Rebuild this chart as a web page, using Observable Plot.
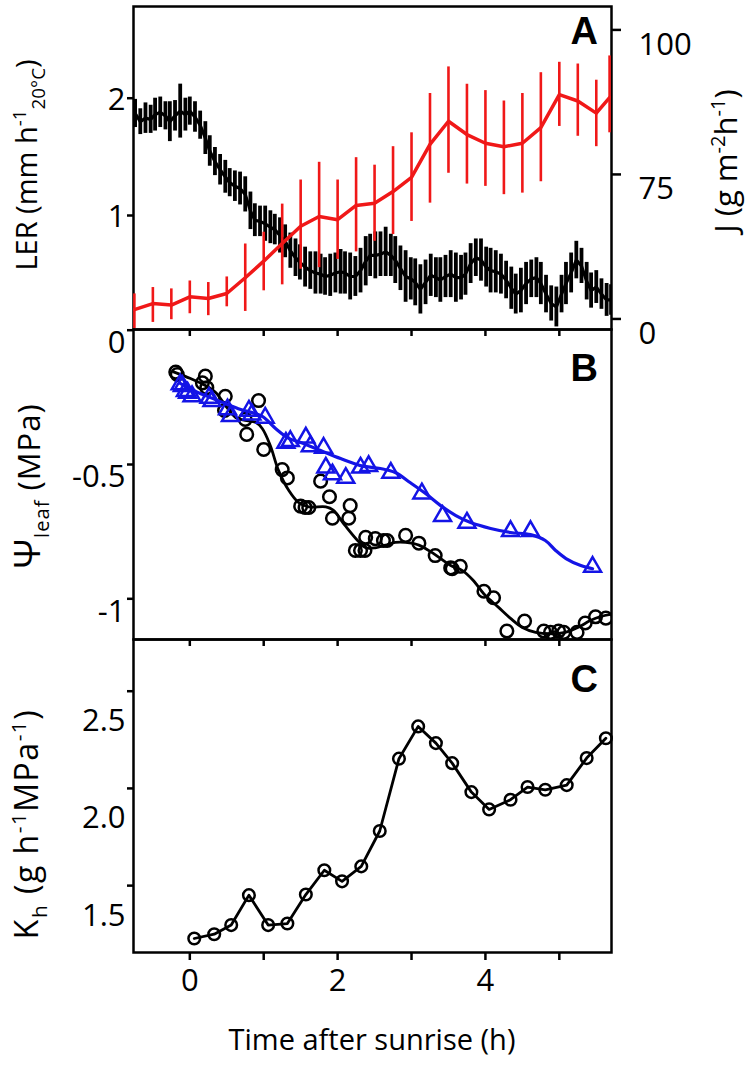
<!DOCTYPE html>
<html><head><meta charset="utf-8">
<script src="https://cdn.jsdelivr.net/npm/d3@7"></script>
<script src="https://cdn.jsdelivr.net/npm/@observablehq/plot@0.6"></script>
<style>
body{margin:0;background:#fff}
#wrap{position:relative;width:747px;height:1069px;overflow:hidden;background:#fff}
#wrap svg{position:absolute;left:0}
</style></head><body><div id="wrap"></div>
<script>
// ---------- DATA ----------
// Panel A: LER (time h, mean, half error bar)
const lerRows = [
[-0.74,1.87,0.12],[-0.67,1.80,0.11],[-0.60,1.83,0.13],[-0.53,1.82,0.12],[-0.47,1.86,0.14],[-0.40,1.88,0.13],
[-0.33,1.85,0.12],[-0.27,1.80,0.17],[-0.20,1.85,0.13],[-0.13,1.89,0.23],[-0.06,1.86,0.14],[0.00,1.89,0.12],
[0.07,1.84,0.13],[0.14,1.77,0.12],[0.21,1.66,0.14],[0.27,1.55,0.13],[0.34,1.46,0.12],[0.41,1.39,0.13],
[0.48,1.33,0.14],[0.54,1.28,0.12],[0.61,1.25,0.13],[0.68,1.23,0.14],[0.75,1.18,0.15],[0.82,1.04,0.16],
[0.88,0.96,0.14],[0.95,0.95,0.13],[1.02,0.93,0.15],[1.09,0.90,0.14],[1.15,0.88,0.13],[1.22,0.83,0.15],
[1.29,0.78,0.14],[1.36,0.70,0.15],[1.43,0.64,0.16],[1.49,0.60,0.15],[1.56,0.56,0.17],[1.63,0.53,0.16],
[1.70,0.51,0.18],[1.77,0.50,0.17],[1.83,0.48,0.16],[1.90,0.49,0.18],[1.97,0.51,0.17],[2.04,0.52,0.19],
[2.10,0.51,0.18],[2.17,0.48,0.20],[2.24,0.48,0.17],[2.31,0.53,0.19],[2.38,0.61,0.21],[2.44,0.66,0.18],
[2.51,0.66,0.20],[2.58,0.67,0.19],[2.65,0.69,0.21],[2.72,0.66,0.18],[2.78,0.62,0.20],[2.85,0.55,0.19],
[2.92,0.48,0.22],[2.99,0.46,0.18],[3.05,0.43,0.20],[3.12,0.37,0.21],[3.19,0.43,0.19],[3.26,0.49,0.18],
[3.33,0.47,0.17],[3.39,0.45,0.19],[3.46,0.48,0.18],[3.53,0.50,0.20],[3.60,0.47,0.21],[3.67,0.47,0.19],
[3.73,0.50,0.18],[3.80,0.59,0.17],[3.87,0.64,0.16],[3.94,0.62,0.18],[4.01,0.56,0.17],[4.07,0.53,0.19],
[4.14,0.52,0.18],[4.21,0.50,0.17],[4.28,0.45,0.16],[4.35,0.38,0.18],[4.41,0.33,0.17],[4.48,0.36,0.19],
[4.55,0.42,0.18],[4.62,0.46,0.16],[4.69,0.47,0.17],[4.75,0.42,0.18],[4.82,0.33,0.16],[4.89,0.25,0.15],
[4.96,0.22,0.17],[5.03,0.33,0.16],[5.09,0.42,0.18],[5.16,0.51,0.17],[5.23,0.62,0.16],[5.30,0.57,0.15],
[5.37,0.44,0.16],[5.43,0.36,0.15],[5.50,0.39,0.14],[5.57,0.33,0.13],[5.64,0.28,0.14],[5.70,0.28,0.13]
];
// Panel A: J (right axis)
const jTime = [-0.75,-0.5,-0.25,0,0.25,0.5,0.75,1,1.25,1.5,1.75,2,2.25,2.5,2.75,3,3.25,3.5,3.75,4,4.25,4.5,4.75,5,5.25,5.5,5.68];
const jMean = [4.8,8.0,7.2,11.5,10.6,13.2,21.4,30.0,39.2,48.1,53.2,51.5,58.9,60.1,66.1,73.5,80.2,84.2,81.9,80.4,79.8,80.4,83.1,88.8,87.7,85.6,88.3];
const jLow  = [-5,-1.8,-0.4,2.7,1.7,6.3,3.9,14.6,17.7,25.8,26.6,30.9,34.8,40.3,43.8,50.6,60.1,75.2,70.0,68.8,64.5,65.3,71.2,83.3,81.6,79.8,82.2];
const jHigh = [13.0,16.3,15.6,19.7,18.9,21.8,38.9,45.0,59.6,72.1,77.1,72.1,77.9,76.6,79.8,82.2,89.0,93.6,90.6,89.5,87.7,89.0,92.6,94.4,94.1,91.3,95.5];
// Panel B: leaf water potential, circles (observed) and fitted line
const psiCircles = [
[-0.19,-0.156],[-0.17,-0.165],[0.17,-0.196],[0.21,-0.171],[0.23,-0.214],[0.47,-0.299],[0.48,-0.246],[0.75,-0.332],
[0.77,-0.388],[0.93,-0.262],[1.00,-0.444],[1.25,-0.519],[1.32,-0.550],[1.50,-0.655],[1.56,-0.660],[1.61,-0.660],
[1.77,-0.562],[1.89,-0.620],[1.93,-0.700],[2.15,-0.700],[2.17,-0.653],[2.24,-0.820],[2.31,-0.820],[2.37,-0.820],
[2.38,-0.771],[2.51,-0.776],[2.62,-0.783],[2.67,-0.783],[2.92,-0.764],[3.10,-0.793],[3.32,-0.839],[3.53,-0.885],
[3.55,-0.888],[3.66,-0.879],[3.98,-0.972],[4.11,-0.996],[4.29,-1.120],[4.53,-1.083],[4.79,-1.120],[4.88,-1.125],
[4.93,-1.145],[4.99,-1.120],[5.06,-1.125],[5.24,-1.125],[5.35,-1.090],[5.49,-1.067],[5.63,-1.072]
];
const psiCircleFit = [
[-0.22,-0.155],[0.01,-0.18],[0.21,-0.206],[0.35,-0.232],[0.48,-0.28],[0.62,-0.325],[0.75,-0.336],[0.89,-0.343],
[0.98,-0.366],[1.09,-0.43],[1.20,-0.522],[1.34,-0.597],[1.47,-0.641],[1.61,-0.658],[1.84,-0.658],[1.94,-0.67],
[2.10,-0.727],[2.27,-0.783],[2.38,-0.81],[2.51,-0.81],[2.65,-0.80],[2.78,-0.79],[2.92,-0.79],[3.10,-0.80],
[3.29,-0.83],[3.53,-0.876],[3.69,-0.895],[3.83,-0.93],[4.00,-0.988],[4.17,-1.03],[4.34,-1.073],[4.50,-1.107],
[4.68,-1.125],[4.88,-1.13],[5.08,-1.125],[5.25,-1.107],[5.42,-1.081],[5.56,-1.066],[5.69,-1.058]
];
const psiTriangles = [
[-0.13,-0.202],[-0.10,-0.208],[-0.06,-0.227],[-0.03,-0.233],[0.03,-0.246],[0.26,-0.252],[0.30,-0.264],[0.51,-0.295],
[0.55,-0.320],[0.80,-0.300],[0.84,-0.314],[1.02,-0.326],[1.30,-0.419],[1.36,-0.413],[1.57,-0.400],[1.63,-0.432],
[1.81,-0.438],[1.84,-0.512],[1.93,-0.537],[2.11,-0.550],[2.31,-0.512],[2.42,-0.506],[2.72,-0.531],[3.14,-0.608],
[3.42,-0.692],[3.75,-0.717],[4.34,-0.748],[4.61,-0.748],[5.45,-0.881]
];
const psiTriangleFit = [
[-0.13,-0.198],[0.08,-0.228],[0.28,-0.251],[0.48,-0.273],[0.69,-0.295],[0.98,-0.321],[1.16,-0.366],[1.34,-0.403],
[1.50,-0.418],[1.77,-0.448],[2.04,-0.478],[2.31,-0.504],[2.58,-0.515],[2.78,-0.530],[2.98,-0.567],[3.19,-0.608],
[3.39,-0.652],[3.60,-0.690],[3.80,-0.716],[4.07,-0.738],[4.34,-0.753],[4.61,-0.761],[4.81,-0.783],[4.95,-0.82],
[5.09,-0.85],[5.29,-0.876],[5.45,-0.888]
];
// Panel C: hydraulic conductance
const khTime = [0.06,0.33,0.56,0.80,1.06,1.32,1.57,1.82,2.06,2.32,2.57,2.83,3.09,3.33,3.55,3.81,4.05,4.34,4.57,4.81,5.10,5.37,5.63];
const khValue = [1.228,1.250,1.297,1.451,1.297,1.305,1.454,1.579,1.522,1.599,1.781,2.153,2.319,2.233,2.130,1.981,1.892,1.942,2.007,1.993,2.017,2.156,2.258];
// Ticks
const xTicks = [0,1,2,3,4,5];
const xLabelTicks = [0,2,4];
const lerTicks = [1,2];
const jTicks = [0,75,100];
const psiTicks = [0,-0.5,-1];
const khTicks = [1.5,2.0,2.5];

// ---------- DRAW ----------
const FONT = "'Open Sans', sans-serif";
const RED = "#f01818", BLUE = "#1414e6";
const xDomain = [-0.762, 5.706];
const wrap = document.getElementById("wrap");
function place(svg, top) { svg.style.top = top + "px"; wrap.appendChild(svg); }
const base = (h, mt, mb) => ({
  width: 747, height: h, marginLeft: 133, marginRight: 136, marginTop: mt, marginBottom: mb,
  style: {background: "transparent", overflow: "visible", fontFamily: FONT, fontSize: "31px", color: "#000"}
});
// tick marks only / labels only (the reference labels sit a little below their ticks in panels B and C)
const ticksOnly = (vals, anchor, size) => Plot.axisY(vals, {anchor, tickSize: size, strokeWidth: 2.5, tickFormat: () => "", label: null});
const labelsOnly = (vals, anchor, pad, dy, fmt) => Plot.axisY(vals, {anchor, tickSize: 0, tickPadding: pad, dy, fontSize: 31, label: null, tickFormat: fmt});

const lerData = lerRows.map(([t, m, e]) => ({t, m, lo: m - e, hi: m + e}));
const jData = jTime.map((t, i) => ({t, m: jMean[i], lo: jLow[i], hi: jHigh[i]}));

// Panel A, left scale (LER)
place(Plot.plot({
  ...base(329, 6, 0),
  x: {domain: xDomain, axis: null},
  y: {domain: [0.028, 2.782]},
  marks: [
    Plot.ruleX(lerData, {x: "t", y1: "lo", y2: "hi", stroke: "#000", strokeWidth: 3.8, clip: true}),
    Plot.line(lerData, {x: "t", y: "m", stroke: "#000", strokeWidth: 3.2, clip: true}),
    ticksOnly(lerTicks, "left", 6),
    labelsOnly(lerTicks, "left", 8, 2, d => String(d)),
    Plot.frame({stroke: "#000", strokeWidth: 2.5})
  ]
}), 0);

// Panel A, right scale (J) — broken axis: 0–75 and 75–100 each take one unit
place(Plot.plot({
  ...base(329, 6, 0),
  x: {domain: xDomain, axis: null},
  y: {transform: j => j <= 75 ? j / 75 : 1 + (j - 75) / 25, domain: [-0.073, 2.162]},
  marks: [
    Plot.ruleX(jData, {x: "t", y1: "lo", y2: "hi", stroke: RED, strokeWidth: 2.6, clip: true}),
    Plot.line(jData, {x: "t", y: "m", stroke: RED, strokeWidth: 3.5, clip: true}),
    ticksOnly(jTicks, "right", 9),
    labelsOnly(jTicks, "right", 27, 15, d => String(d))
  ]
}), 0);

// Panel B
place(Plot.plot({
  ...base(310, 0, 0),
  x: {domain: xDomain},
  y: {domain: [-1.1515, 0.0026]},
  marks: [
    Plot.line(psiCircleFit, {x: d => d[0], y: d => d[1], stroke: "#000", strokeWidth: 2.8, curve: "catmull-rom"}),
    Plot.dot(psiCircles, {x: d => d[0], y: d => d[1], r: 6.3, stroke: "#000", strokeWidth: 2.5, fill: "none", clip: true}),
    Plot.line(psiTriangleFit, {x: d => d[0], y: d => d[1], stroke: BLUE, strokeWidth: 3.2, curve: "catmull-rom"}),
    Plot.dot(psiTriangles, {x: d => d[0], y: d => d[1], symbol: "triangle", r: 6.3, stroke: BLUE, strokeWidth: 2.5, fill: "none"}),
    ticksOnly(psiTicks, "left", 6),
    labelsOnly(psiTicks, "left", 8, 13, d => String(d)),
    Plot.axisX(xTicks, {anchor: "top", tickSize: -6, strokeWidth: 2.5, tickFormat: () => "", label: null}),
    Plot.frame({stroke: "#000", strokeWidth: 2.5})
  ]
}), 329);

// Panel C
const khData = khTime.map((t, i) => ({t, k: khValue[i]}));
place(Plot.plot({
  ...base(430, 0, 117),
  x: {domain: xDomain},
  y: {domain: [1.156, 2.766]},
  marks: [
    Plot.line(khData, {x: "t", y: "k", stroke: "#000", strokeWidth: 2.8}),
    Plot.dot(khData, {x: "t", y: "k", r: 5.8, stroke: "#000", strokeWidth: 2.5, fill: "none"}),
    ticksOnly(khTicks, "left", 6),
    labelsOnly(khTicks, "left", 8, 30, d => d.toFixed(1)),
    Plot.axisX(xTicks, {anchor: "top", tickSize: -6, strokeWidth: 2.5, tickFormat: () => "", label: null}),
    Plot.axisX(xTicks, {anchor: "bottom", tickSize: 8, strokeWidth: 2.5, tickFormat: () => "", label: null}),
    Plot.axisX(xLabelTicks, {anchor: "bottom", tickSize: 0, tickPadding: 16, fontSize: 31, label: null, tickFormat: d => String(d)}),
    Plot.frame({stroke: "#000", strokeWidth: 2.5})
  ]
}), 639);

// Titles and panel letters
const ov = d3.create("svg").attr("width", 747).attr("height", 1069)
  .style("top", "0px").style("font-family", FONT).style("overflow", "visible");
ov.append("g").attr("font-family", "'Liberation Sans', Arial, sans-serif").attr("font-weight", "bold").attr("font-size", 38).attr("text-anchor", "end")
  .selectAll("text").data([["A", 44], ["B", 381], ["C", 692]]).join("text")
  .attr("x", 598).attr("y", d => d[1]).text(d => d[0]);

function rich(g, parts, size, spacing = 0) {
  const t = g.append("text").attr("text-anchor", "middle").attr("font-size", size).attr("letter-spacing", spacing);
  let shift = 0;
  for (const [s, kind] of parts) {
    const sp = t.append("tspan").text(s);
    const target = kind === "sup" ? -0.38 * size : kind === "sub" ? 0.28 * size : 0;
    if (kind === "sup" || kind === "sub") sp.attr("font-size", 0.65 * size);
    if (kind === "big") sp.attr("font-size", 1.2 * size);
    sp.attr("dy", target - shift);
    shift = target;
  }
  return t;
}
rich(ov.append("g").attr("transform", "translate(37,165) rotate(-90)"),
  [["LER (mm h"], ["-1", "sup"], ["20°C", "sub"], [")"]], 29);
rich(ov.append("g").attr("transform", "translate(40,486) rotate(-90)"),
  [["Ψ", "big"], ["leaf", "sub"], [" (MPa)"]], 31, 1);
rich(ov.append("g").attr("transform", "translate(38,824) rotate(-90)"),
  [["K"], ["h", "sub"], [" (g h"], ["-1", "sup"], ["MPa"], ["-1", "sup"], [")"]], 32, 1.5);
rich(ov.append("g").attr("transform", "translate(737,161) rotate(-90)"),
  [["J (g m"], ["-2", "sup"], ["h"], ["-1", "sup"], [")"]], 31);
ov.append("text").attr("x", 372).attr("y", 1050).attr("text-anchor", "middle").attr("font-size", 29)
  .text("Time after sunrise (h)");
place(ov.node(), 0);
</script></body></html>
